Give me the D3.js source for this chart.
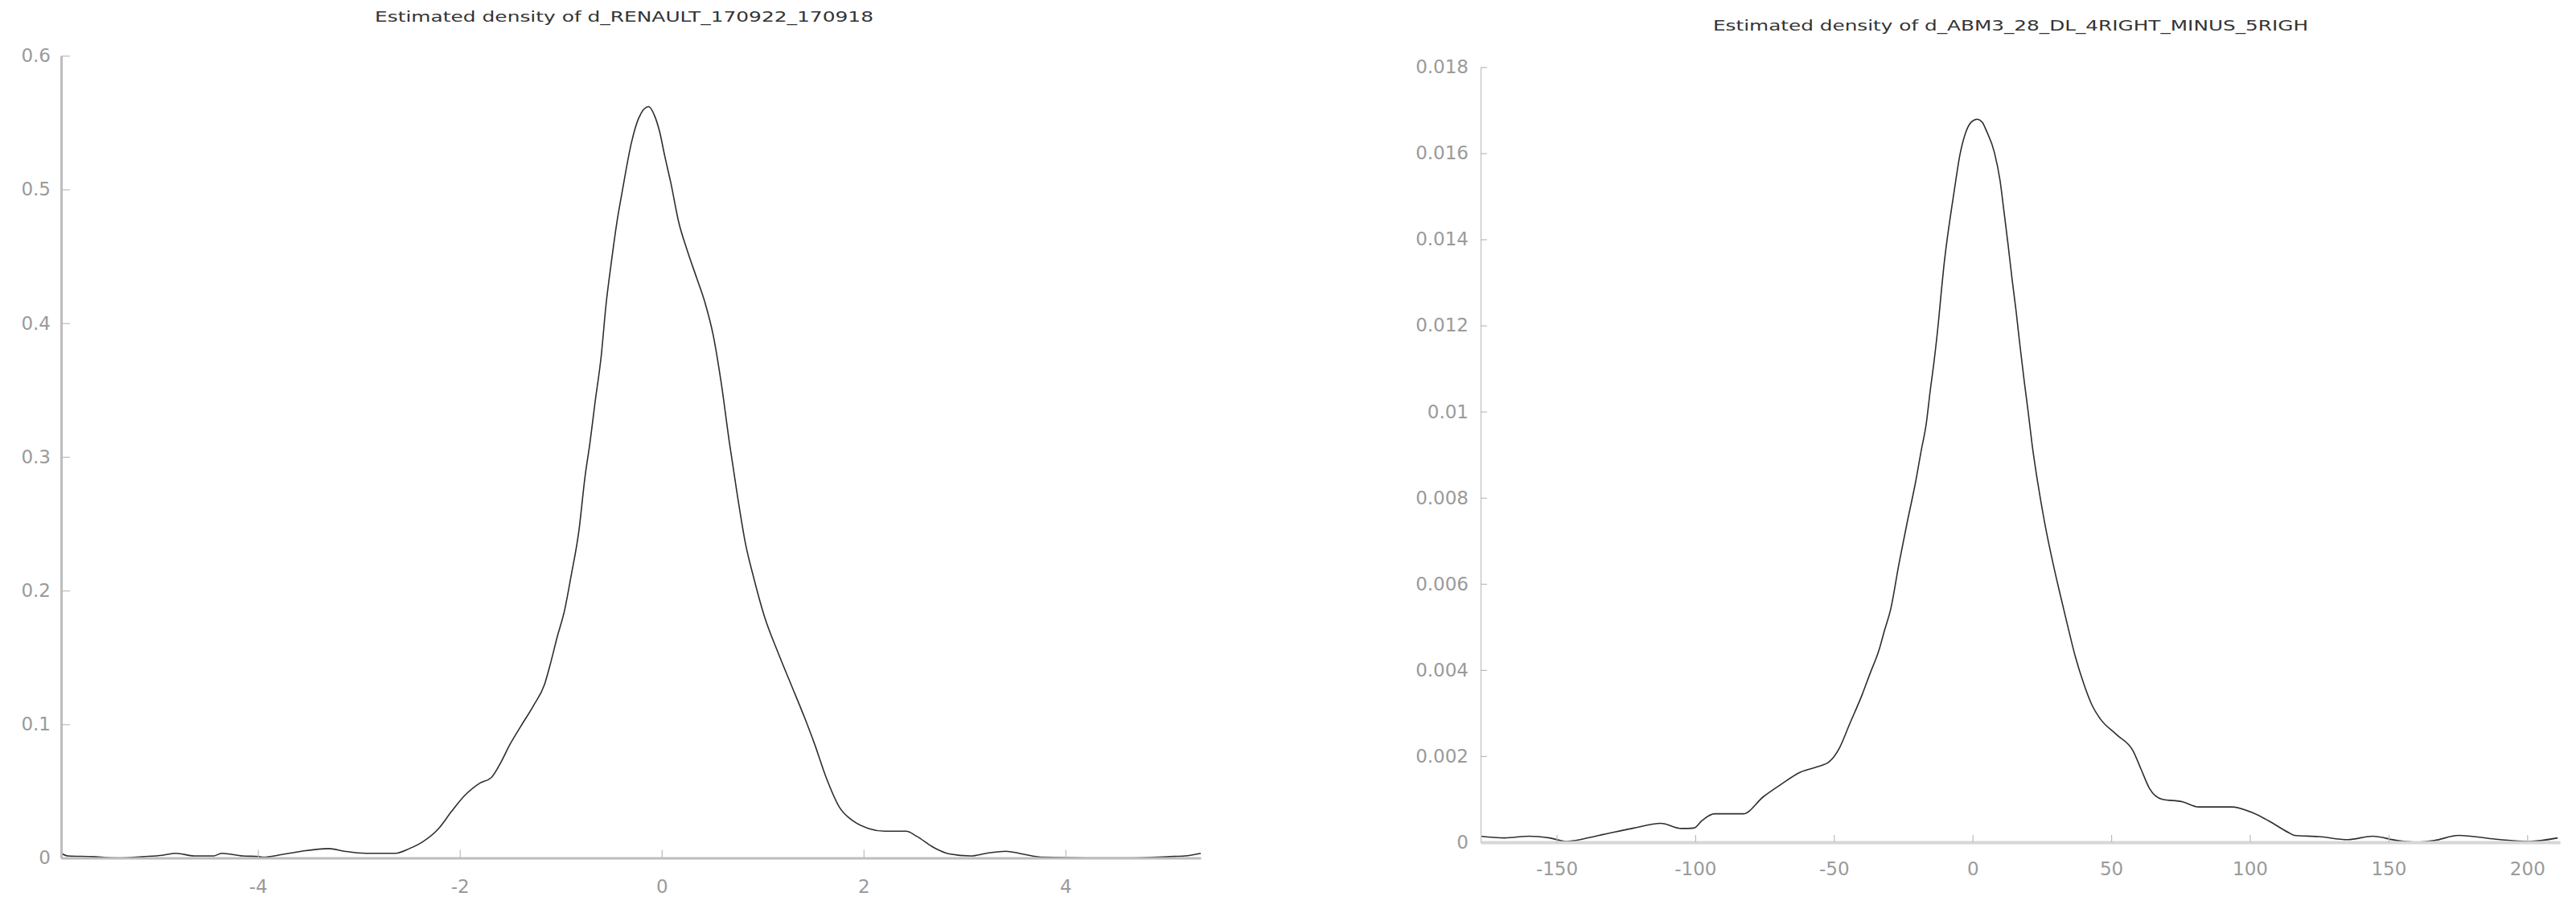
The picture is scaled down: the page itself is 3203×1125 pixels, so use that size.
<!DOCTYPE html>
<html>
<head>
<meta charset="utf-8">
<script src="https://cdn.jsdelivr.net/npm/d3@7"></script>
<style>
  html, body { margin: 0; padding: 0; background: #fff; }
  svg { display: block; }
</style>
</head>
<body>
<svg id="chart" width="3203" height="1125"></svg>
<script>
// ---------- DATA ----------
const leftTitle = "Estimated density of d_RENAULT_170922_170918";
const rightTitle = "Estimated density of d_ABM3_28_DL_4RIGHT_MINUS_5RIGH";

const leftXDomain = [-5.95, 5.34];
const leftYDomain = [0, 0.6];
const leftXTicks = [-4, -2, 0, 2, 4];
const leftYTicks = [0, 0.1, 0.2, 0.3, 0.4, 0.5, 0.6];

const leftX = [-5.95, -5.88, -5.64, -5.4, -5.13, -4.95, -4.81, -4.63, -4.44, -4.36, -4.15, -3.99, -3.94, -3.88,
  -3.73, -3.57, -3.30, -3.14, -2.93, -2.64, -2.50, -2.37, -2.21, -2.08, -1.96, -1.80, -1.69, -1.59, -1.51,
  -1.40, -1.27, -1.16, -1.10, -1.04, -0.96, -0.90, -0.82, -0.76, -0.71, -0.66, -0.60, -0.55, -0.50, -0.445,
  -0.39, -0.30, -0.23, -0.13, -0.07, -0.02, 0.03, 0.09, 0.17, 0.25, 0.35, 0.43, 0.51, 0.59, 0.67, 0.75,
  0.83, 0.91, 1.02, 1.15, 1.28, 1.41, 1.52, 1.63, 1.76, 1.89, 2.05, 2.21, 2.42, 2.53, 2.69, 2.85, 3.06,
  3.22, 3.41, 3.54, 3.67, 3.78, 4.2, 4.6, 5.03, 5.18, 5.34];
const leftY = [0.0035, 0.0015, 0.001, 0.0, 0.001, 0.002, 0.0035, 0.0015, 0.0015, 0.0035, 0.0015, 0.001, 0.0005, 0.001,
  0.003, 0.005, 0.007, 0.005, 0.0035, 0.0035, 0.007, 0.012, 0.022, 0.035, 0.046, 0.056, 0.060, 0.072, 0.084,
  0.098, 0.114, 0.130, 0.146, 0.164, 0.186, 0.210, 0.245, 0.285, 0.311, 0.341, 0.375, 0.415, 0.445, 0.475,
  0.499, 0.535, 0.553, 0.562, 0.555, 0.543, 0.525, 0.505, 0.475, 0.455, 0.433, 0.415, 0.391, 0.355, 0.311, 0.271,
  0.235, 0.210, 0.180, 0.154, 0.130, 0.106, 0.084, 0.060, 0.038, 0.028, 0.022, 0.020, 0.020, 0.016, 0.008, 0.003, 0.0015,
  0.0035, 0.005, 0.0035, 0.0015, 0.0005, 0.0, 0.0, 0.001, 0.0015, 0.0035];

const rightXDomain = [-177.4, 211.8];
const rightYDomain = [0, 0.018];
const rightXTicks = [-150, -100, -50, 0, 50, 100, 150, 200];
const rightYTicks = [0, 0.002, 0.004, 0.006, 0.008, 0.01, 0.012, 0.014, 0.016, 0.018];

const rightX = [-177.4, -168.8, -159.9, -152.5, -146.5, -134.7, -122.8, -112.4, -105.0, -100.5, -97.6, -93.1,
  -82.7, -75.4, -69.4, -62.0, -56.1, -51.7, -48.0, -44.3, -39.8, -36.9, -33.9, -31.7, -29.5, -26.5, -23.6,
  -20.6, -18.5, -16.7, -15.3, -13.8, -12.4, -11.4, -10.4, -9.0, -7.5, -6.1, -4.6, -2.7, -0.5, 1.6, 3.5, 5.0,
  7.9, 9.9, 11.3, 12.8, 14.2, 15.7, 17.1, 18.6, 20.1, 21.5, 23.5, 26.0, 29.0, 31.2, 34.2, 37.1, 40.1, 43.1,
  46.0, 51.9, 57.9, 60.8, 63.8, 68.3, 75.7, 81.6, 93.4, 100.8, 106.7, 114.1, 116.0, 124.9, 135.3, 144.2,
  153.1, 160.5, 166.5, 175.4, 188.7, 200.6, 211.0];
const rightY = [0.00014, 0.0001, 0.00014, 0.0001, 0.00002, 0.00016, 0.00032, 0.00044, 0.00032, 0.00033, 0.0005, 0.00066,
  0.00066, 0.00106, 0.00133, 0.00163, 0.00175, 0.00187, 0.00219, 0.00275, 0.00343, 0.00393, 0.00443, 0.00493, 0.00542, 0.00648, 0.00742,
  0.00835, 0.0091, 0.00972, 0.01047, 0.01121, 0.01202, 0.01270, 0.01335, 0.01408, 0.01475, 0.01535, 0.01595, 0.01644, 0.01672, 0.01679, 0.01672, 0.01652,
  0.01601, 0.01537, 0.01466, 0.01388, 0.01310, 0.01233, 0.01153, 0.01072, 0.00997, 0.00922, 0.00835, 0.00742, 0.00648, 0.00586, 0.00505, 0.00430, 0.00368, 0.00318,
  0.00287, 0.00250, 0.00212, 0.00169, 0.00125, 0.00100, 0.00094, 0.00082, 0.00082, 0.00069, 0.0005, 0.00022, 0.00016, 0.00013, 0.00006, 0.00014,
  0.00004, 0.0, 0.00004, 0.00016, 0.00007, 0.00002, 0.0001];

// ---------- DRAW ----------
const svg = d3.select("#chart");
const FONT = "'DejaVu Sans', Verdana, sans-serif";

function drawPanel(cfg) {
  const x = d3.scaleLinear().domain(cfg.xDomain).range([cfg.left, cfg.right]);
  const y = d3.scaleLinear().domain(cfg.yDomain).range([cfg.bottom, cfg.top]);
  const g = svg.append("g");

  // title
  g.append("text")
    .attr("x", cfg.titleX).attr("y", cfg.titleY)
    .attr("text-anchor", "middle")
    .attr("font-family", FONT).attr("font-size", 18)
    .attr("fill", "#333")
    .attr("textLength", cfg.titleLen).attr("lengthAdjust", "spacingAndGlyphs")
    .text(cfg.title);

  // curve
  const pts = cfg.xs.map((v, i) => [v, cfg.ys[i]]);
  g.append("path")
    .datum(pts)
    .attr("fill", "none")
    .attr("stroke", "#2e2e2e")
    .attr("stroke-width", 1.6)
    .attr("d", d3.line().x(d => x(d[0])).y(d => y(d[1])).curve(d3.curveMonotoneX));

  // y axis
  const yAxis = g.append("g")
    .attr("transform", `translate(${cfg.left},0)`)
    .call(d3.axisLeft(y).tickValues(cfg.yTicks).tickFormat(d3.format("~g"))
      .tickSizeInner(-cfg.yTickLen).tickSizeOuter(0).tickPadding(cfg.yPad));
  yAxis.select(".domain").attr("stroke", cfg.yAxisColor).attr("stroke-width", cfg.yAxisWidth);
  yAxis.selectAll(".tick line").attr("stroke", "#bbb").attr("stroke-width", 1.2);
  yAxis.selectAll(".tick text").attr("fill", "#9a9a9a").attr("font-family", FONT).attr("font-size", 23);

  // x axis
  const xAxis = g.append("g")
    .attr("transform", `translate(0,${cfg.bottom})`)
    .call(d3.axisBottom(x).tickValues(cfg.xTicks).tickFormat(d => String(d))
      .tickSizeInner(-cfg.xTickLen).tickSizeOuter(0).tickPadding(cfg.xPad));
  xAxis.select(".domain").attr("stroke", cfg.xAxisColor).attr("stroke-width", cfg.xAxisWidth);
  xAxis.selectAll(".tick line").attr("stroke", "#bbb").attr("stroke-width", 1.2);
  xAxis.selectAll(".tick text").attr("fill", "#9a9a9a").attr("font-family", FONT).attr("font-size", 23);
}

drawPanel({
  title: leftTitle, titleX: 776, titleY: 27, titleLen: 620,
  xDomain: leftXDomain, yDomain: leftYDomain, xTicks: leftXTicks, yTicks: leftYTicks,
  xs: leftX, ys: leftY,
  left: 76, right: 1493, top: 69.3, bottom: 1066.5,
  yTickLen: 11, xTickLen: 10, yPad: 13, xPad: 27,
  yAxisColor: "#bdbdbd", yAxisWidth: 3, xAxisColor: "#bdbdbd", xAxisWidth: 3
});

drawPanel({
  title: rightTitle, titleX: 2500, titleY: 38, titleLen: 740,
  xDomain: rightXDomain, yDomain: rightYDomain, xTicks: rightXTicks, yTicks: rightYTicks,
  xs: rightX, ys: rightY,
  left: 1841, right: 3183, top: 83.4, bottom: 1047,
  yTickLen: 8, xTickLen: 9, yPad: 15, xPad: 25,
  yAxisColor: "#c8c8c8", yAxisWidth: 1.5, xAxisColor: "#d6d6d6", xAxisWidth: 4
});
</script>
</body>
</html>
